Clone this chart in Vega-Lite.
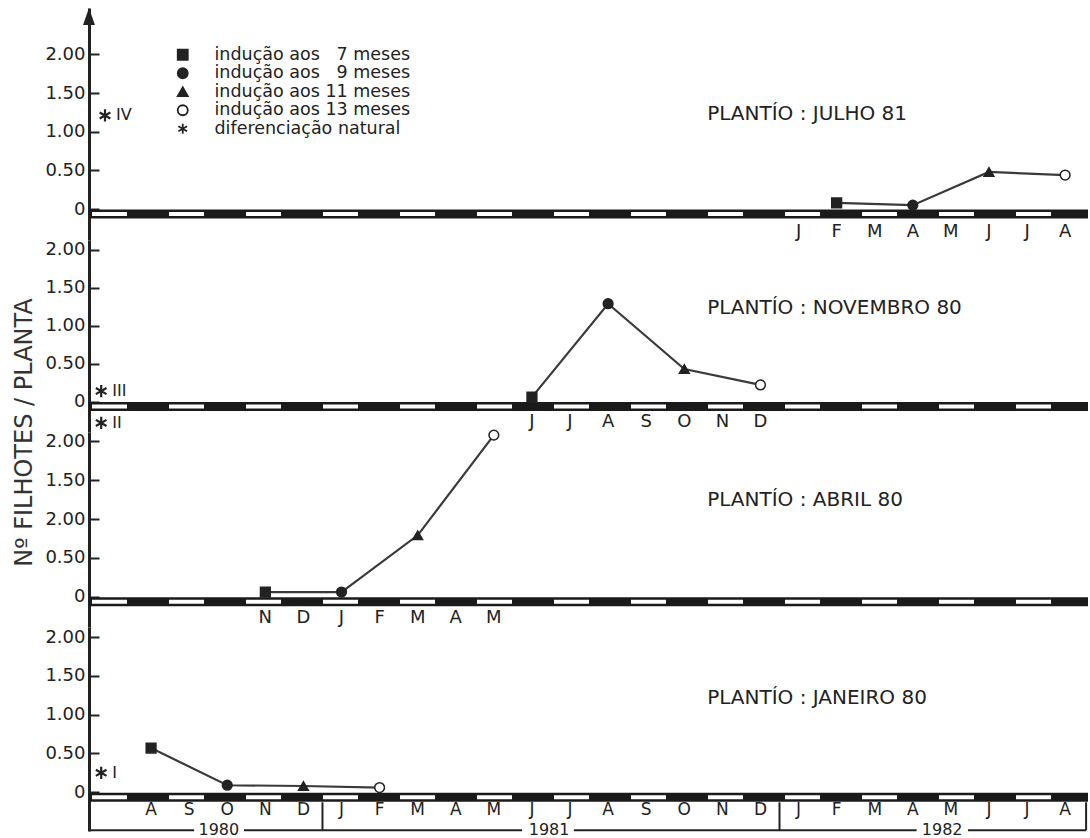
{
"$schema": "https://vega.github.io/schema/vega-lite/v6.json",
"background": "white",
"padding": {"left": 12, "top": 8, "right": 1, "bottom": 4},
"spacing": 0,
"bounds": "flush",
"config": {
  "view": {"stroke": null},
  "font": "DejaVu Sans",
  "axisY": {"domainColor": "#222", "domainWidth": 3, "tickColor": "#222", "tickWidth": 2, "tickSize": -10, "labelFont": "DejaVu Sans", "labelFontSize": 18, "labelColor": "#222", "labelPadding": 14, "grid": false}
},
"resolve": {"scale": {"x": "independent", "y": "independent", "shape": "independent", "fill": "independent", "stroke": "independent"}, "legend": {"shape": "independent", "fill": "independent", "stroke": "independent"}},
"datasets": {
  "pts": [
    {"painel": "JULHO 81", "serie": "indução aos 7 meses", "t": 19, "valor": 0.08},
    {"painel": "JULHO 81", "serie": "indução aos 9 meses", "t": 21, "valor": 0.05},
    {"painel": "JULHO 81", "serie": "indução aos 11 meses", "t": 23, "valor": 0.48},
    {"painel": "JULHO 81", "serie": "indução aos 13 meses", "t": 25, "valor": 0.44},
    {"painel": "NOVEMBRO 80", "serie": "indução aos 7 meses", "t": 11, "valor": 0.06},
    {"painel": "NOVEMBRO 80", "serie": "indução aos 9 meses", "t": 13, "valor": 1.29},
    {"painel": "NOVEMBRO 80", "serie": "indução aos 11 meses", "t": 15, "valor": 0.43},
    {"painel": "NOVEMBRO 80", "serie": "indução aos 13 meses", "t": 17, "valor": 0.22},
    {"painel": "ABRIL 80", "serie": "indução aos 7 meses", "t": 4, "valor": 0.06},
    {"painel": "ABRIL 80", "serie": "indução aos 9 meses", "t": 6, "valor": 0.06},
    {"painel": "ABRIL 80", "serie": "indução aos 11 meses", "t": 8, "valor": 0.79},
    {"painel": "ABRIL 80", "serie": "indução aos 13 meses", "t": 10, "valor": 2.08},
    {"painel": "JANEIRO 80", "serie": "indução aos 7 meses", "t": 1, "valor": 0.57},
    {"painel": "JANEIRO 80", "serie": "indução aos 9 meses", "t": 3, "valor": 0.09},
    {"painel": "JANEIRO 80", "serie": "indução aos 11 meses", "t": 5, "valor": 0.08},
    {"painel": "JANEIRO 80", "serie": "indução aos 13 meses", "t": 7, "valor": 0.06}
  ],
  "natural": [
    {"painel": "JULHO 81", "t": -0.21, "valor": 1.21, "rotulo": "IV"},
    {"painel": "NOVEMBRO 80", "t": -0.31, "valor": 0.14, "rotulo": "III"},
    {"painel": "NOVEMBRO 80", "t": -0.31, "valor": -0.28, "rotulo": "II"},
    {"painel": "JANEIRO 80", "t": -0.31, "valor": 0.25, "rotulo": "I"}
  ],
  "meses": [
    {"t": 0, "m": "J"}, {"t": 1, "m": "A"}, {"t": 2, "m": "S"}, {"t": 3, "m": "O"}, {"t": 4, "m": "N"}, {"t": 5, "m": "D"},
    {"t": 6, "m": "J"}, {"t": 7, "m": "F"}, {"t": 8, "m": "M"}, {"t": 9, "m": "A"}, {"t": 10, "m": "M"}, {"t": 11, "m": "J"},
    {"t": 12, "m": "J"}, {"t": 13, "m": "A"}, {"t": 14, "m": "S"}, {"t": 15, "m": "O"}, {"t": 16, "m": "N"}, {"t": 17, "m": "D"},
    {"t": 18, "m": "J"}, {"t": 19, "m": "F"}, {"t": 20, "m": "M"}, {"t": 21, "m": "A"}, {"t": 22, "m": "M"}, {"t": 23, "m": "J"},
    {"t": 24, "m": "J"}, {"t": 25, "m": "A"}
  ],
  "titulos": [
    {"painel": "JULHO 81", "titulo": "PLANTÍO : JULHO 81"},
    {"painel": "NOVEMBRO 80", "titulo": "PLANTÍO : NOVEMBRO 80"},
    {"painel": "ABRIL 80", "titulo": "PLANTÍO : ABRIL 80"},
    {"painel": "JANEIRO 80", "titulo": "PLANTÍO : JANEIRO 80"}
  ],
  "anos": [{"ano": "1980", "t": 2.78}, {"ano": "1981", "t": 11.45}, {"ano": "1982", "t": 21.77}],
  "divisas": [{"t": 5.5}, {"t": 17.5}, {"t": 25.55}],
  "base": [{"t0": -0.63, "t1": 2.13}, {"t0": 3.44, "t1": 10.74}, {"t0": 12.1, "t1": 21.1}, {"t0": 22.45, "t1": 25.55}]
},
"vconcat": [
{
  "width": 999, "height": 232,
  "layer": [
    {"data": {"values": [{}]}, "mark": {"type": "rule", "color": "#1a1a1a", "strokeWidth": 9},
     "encoding": {"x": {"datum": -0.63, "type": "quantitative", "scale": {"domain": [-0.63, 25.6], "nice": false, "zero": false}, "axis": null}, "x2": {"datum": 25.6},
                  "y": {"datum": -0.065, "type": "quantitative", "scale": {"domain": [-0.4, 2.6], "nice": false, "zero": false},
                        "axis": {"values": [0, 0.5, 1, 1.5, 2], "labelExpr": "datum.value == 0 ? '0' : format(datum.value, '.2f')", "title": null}}}},
    {"data": {"values": [{}]}, "mark": {"type": "rule", "color": "#ffffff", "strokeWidth": 4, "strokeDash": [35, 42], "strokeDashOffset": 74},
     "encoding": {"x": {"datum": -0.63, "type": "quantitative", "scale": {"domain": [-0.63, 25.6], "nice": false, "zero": false}, "axis": null}, "x2": {"datum": 25.6},
                  "y": {"datum": -0.065, "type": "quantitative", "scale": {"domain": [-0.4, 2.6], "nice": false, "zero": false},
                        "axis": {"values": [0, 0.5, 1, 1.5, 2], "labelExpr": "datum.value == 0 ? '0' : format(datum.value, '.2f')", "title": null}}}},
    {"data": {"values": [{}]}, "mark": {"type": "point", "shape": "M0,-1L-0.7,1L0.7,1Z", "filled": true, "color": "#222", "size": 289, "opacity": 1},
     "encoding": {"x": {"datum": -0.63, "type": "quantitative", "scale": {"domain": [-0.63, 25.6], "nice": false, "zero": false}, "axis": null},
                  "y": {"datum": 2.49, "type": "quantitative", "scale": {"domain": [-0.4, 2.6], "nice": false, "zero": false},
                        "axis": {"values": [0, 0.5, 1, 1.5, 2], "labelExpr": "datum.value == 0 ? '0' : format(datum.value, '.2f')", "title": null}}}},
    {"data": {"name": "pts"}, "transform": [{"filter": "datum.painel == 'JULHO 81'"}],
     "mark": {"type": "line", "color": "#3a3a3a", "strokeWidth": 2.2},
     "encoding": {"x": {"field": "t", "type": "quantitative", "scale": {"domain": [-0.63, 25.6], "nice": false, "zero": false}, "axis": null},
                  "y": {"field": "valor", "type": "quantitative", "scale": {"domain": [-0.4, 2.6], "nice": false, "zero": false},
                        "axis": {"values": [0, 0.5, 1, 1.5, 2], "labelExpr": "datum.value == 0 ? '0' : format(datum.value, '.2f')", "title": null}}}},
    {"data": {"name": "pts"}, "transform": [{"filter": "datum.painel == 'JULHO 81'"}],
     "mark": {"type": "point", "filled": true, "size": 95, "strokeWidth": 1.5, "opacity": 1},
     "encoding": {"x": {"field": "t", "type": "quantitative", "scale": {"domain": [-0.63, 25.6], "nice": false, "zero": false}, "axis": null},
                  "y": {"field": "valor", "type": "quantitative", "scale": {"domain": [-0.4, 2.6], "nice": false, "zero": false},
                        "axis": {"values": [0, 0.5, 1, 1.5, 2], "labelExpr": "datum.value == 0 ? '0' : format(datum.value, '.2f')", "title": null}},
                  "shape": {"field": "serie", "type": "nominal",
                            "scale": {"domain": ["indução aos 7 meses", "indução aos 9 meses", "indução aos 11 meses", "indução aos 13 meses", "diferenciação natural"],
                                      "range": ["square", "circle", "triangle-up", "circle", "M0,-1L0,1M-0.87,-0.5L0.87,0.5M-0.87,0.5L0.87,-0.5"]},
                            "legend": {"orient": "none", "legendX": 85, "legendY": 38, "title": null, "padding": 0, "labelFont": "DejaVu Sans", "labelFontSize": 17.5, "labelColor": "#222", "labelLimit": 0, "symbolSize": 100, "symbolStrokeWidth": 1.8, "labelOffset": 23, "rowPadding": -0.5,
                                       "labelExpr": "datum.label == 'indução aos 7 meses' ? 'indução aos \u20077 meses' : datum.label == 'indução aos 9 meses' ? 'indução aos \u20079 meses' : datum.label"}},
                  "fill": {"field": "serie", "type": "nominal",
                           "scale": {"domain": ["indução aos 7 meses", "indução aos 9 meses", "indução aos 11 meses", "indução aos 13 meses", "diferenciação natural"],
                                     "range": ["#222222", "#222222", "#222222", "#ffffff", "#222222"]},
                           "legend": {"orient": "none", "legendX": 85, "legendY": 38, "title": null, "padding": 0, "labelFont": "DejaVu Sans", "labelFontSize": 17.5, "labelColor": "#222", "labelLimit": 0, "symbolSize": 100, "symbolStrokeWidth": 1.8, "labelOffset": 23, "rowPadding": -0.5,
                                      "labelExpr": "datum.label == 'indução aos 7 meses' ? 'indução aos \u20077 meses' : datum.label == 'indução aos 9 meses' ? 'indução aos \u20079 meses' : datum.label"}},
                  "stroke": {"field": "serie", "type": "nominal",
                           "scale": {"domain": ["indução aos 7 meses", "indução aos 9 meses", "indução aos 11 meses", "indução aos 13 meses", "diferenciação natural"],
                                     "range": ["#222222", "#222222", "#222222", "#222222", "#222222"]},
                           "legend": {"orient": "none", "legendX": 85, "legendY": 38, "title": null, "padding": 0, "labelFont": "DejaVu Sans", "labelFontSize": 17.5, "labelColor": "#222", "labelLimit": 0, "symbolSize": 100, "symbolStrokeWidth": 1.8, "labelOffset": 23, "rowPadding": -0.5,
                                      "labelExpr": "datum.label == 'indução aos 7 meses' ? 'indução aos \u20077 meses' : datum.label == 'indução aos 9 meses' ? 'indução aos \u20079 meses' : datum.label"}}}},
    {"data": {"name": "natural"}, "transform": [{"filter": "datum.painel == 'JULHO 81'"}],
     "mark": {"type": "point", "shape": "M0,-1L0,1M-0.87,-0.5L0.87,0.5M-0.87,0.5L0.87,-0.5", "filled": false, "size": 150, "strokeWidth": 2.2, "color": "#222", "opacity": 1},
     "encoding": {"x": {"field": "t", "type": "quantitative", "scale": {"domain": [-0.63, 25.6], "nice": false, "zero": false}, "axis": null},
                  "y": {"field": "valor", "type": "quantitative", "scale": {"domain": [-0.4, 2.6], "nice": false, "zero": false},
                        "axis": {"values": [0, 0.5, 1, 1.5, 2], "labelExpr": "datum.value == 0 ? '0' : format(datum.value, '.2f')", "title": null}}}},
    {"data": {"name": "natural"}, "transform": [{"filter": "datum.painel == 'JULHO 81'"}],
     "mark": {"type": "text", "align": "left", "baseline": "middle", "dx": 11, "fontSize": 16, "fill": "#222"},
     "encoding": {"x": {"field": "t", "type": "quantitative", "scale": {"domain": [-0.63, 25.6], "nice": false, "zero": false}, "axis": null},
                  "y": {"field": "valor", "type": "quantitative", "scale": {"domain": [-0.4, 2.6], "nice": false, "zero": false},
                        "axis": {"values": [0, 0.5, 1, 1.5, 2], "labelExpr": "datum.value == 0 ? '0' : format(datum.value, '.2f')", "title": null}},
                  "text": {"field": "rotulo"}}},
    {"data": {"name": "meses"}, "transform": [{"filter": "datum.t >= 18"}],
     "mark": {"type": "text", "align": "center", "baseline": "middle", "fontSize": 18, "fill": "#222"},
     "encoding": {"x": {"field": "t", "type": "quantitative", "scale": {"domain": [-0.63, 25.6], "nice": false, "zero": false}, "axis": null},
                  "y": {"datum": -0.3, "type": "quantitative", "scale": {"domain": [-0.4, 2.6], "nice": false, "zero": false},
                        "axis": {"values": [0, 0.5, 1, 1.5, 2], "labelExpr": "datum.value == 0 ? '0' : format(datum.value, '.2f')", "title": null}},
                  "text": {"field": "m"}}},
    {"data": {"name": "titulos"}, "transform": [{"filter": "datum.painel == 'JULHO 81'"}],
     "mark": {"type": "text", "align": "left", "baseline": "middle", "fontSize": 20, "fill": "#222"},
     "encoding": {"x": {"datum": 15.6, "type": "quantitative", "scale": {"domain": [-0.63, 25.6], "nice": false, "zero": false}, "axis": null},
                  "y": {"datum": 1.23, "type": "quantitative", "scale": {"domain": [-0.4, 2.6], "nice": false, "zero": false},
                        "axis": {"values": [0, 0.5, 1, 1.5, 2], "labelExpr": "datum.value == 0 ? '0' : format(datum.value, '.2f')", "title": null}},
                  "text": {"field": "titulo"}}}
  ]
},
{
  "width": 999, "height": 192,
  "layer": [
    {"data": {"values": [{}]}, "mark": {"type": "rule", "color": "#1a1a1a", "strokeWidth": 9},
     "encoding": {"x": {"datum": -0.63, "type": "quantitative", "scale": {"domain": [-0.63, 25.6], "nice": false, "zero": false}, "axis": null}, "x2": {"datum": 25.6},
                  "y": {"datum": -0.065, "type": "quantitative", "scale": {"domain": [-0.4, 2.13], "nice": false, "zero": false},
                        "axis": {"values": [0, 0.5, 1, 1.5, 2], "labelExpr": "datum.value == 0 ? '0' : format(datum.value, '.2f')", "title": "Nº FILHOTES / PLANTA", "titleFont": "DejaVu Sans", "titleFontSize": 24, "titleFontWeight": "normal", "titleColor": "#333", "titleAnchor": "start", "titleAlign": "center", "titlePadding": 8}}}},
    {"data": {"values": [{}]}, "mark": {"type": "rule", "color": "#ffffff", "strokeWidth": 4, "strokeDash": [35, 42], "strokeDashOffset": 74},
     "encoding": {"x": {"datum": -0.63, "type": "quantitative", "scale": {"domain": [-0.63, 25.6], "nice": false, "zero": false}, "axis": null}, "x2": {"datum": 25.6},
                  "y": {"datum": -0.065, "type": "quantitative", "scale": {"domain": [-0.4, 2.13], "nice": false, "zero": false},
                        "axis": {"values": [0, 0.5, 1, 1.5, 2], "labelExpr": "datum.value == 0 ? '0' : format(datum.value, '.2f')", "title": "Nº FILHOTES / PLANTA", "titleFont": "DejaVu Sans", "titleFontSize": 24, "titleFontWeight": "normal", "titleColor": "#333", "titleAnchor": "start", "titleAlign": "center", "titlePadding": 8}}}},
    {"data": {"name": "pts"}, "transform": [{"filter": "datum.painel == 'NOVEMBRO 80'"}],
     "mark": {"type": "line", "color": "#3a3a3a", "strokeWidth": 2.2},
     "encoding": {"x": {"field": "t", "type": "quantitative", "scale": {"domain": [-0.63, 25.6], "nice": false, "zero": false}, "axis": null},
                  "y": {"field": "valor", "type": "quantitative", "scale": {"domain": [-0.4, 2.13], "nice": false, "zero": false},
                        "axis": {"values": [0, 0.5, 1, 1.5, 2], "labelExpr": "datum.value == 0 ? '0' : format(datum.value, '.2f')", "title": "Nº FILHOTES / PLANTA", "titleFont": "DejaVu Sans", "titleFontSize": 24, "titleFontWeight": "normal", "titleColor": "#333", "titleAnchor": "start", "titleAlign": "center", "titlePadding": 8}}}},
    {"data": {"name": "pts"}, "transform": [{"filter": "datum.painel == 'NOVEMBRO 80'"}],
     "mark": {"type": "point", "filled": true, "size": 95, "strokeWidth": 1.5, "opacity": 1},
     "encoding": {"x": {"field": "t", "type": "quantitative", "scale": {"domain": [-0.63, 25.6], "nice": false, "zero": false}, "axis": null},
                  "y": {"field": "valor", "type": "quantitative", "scale": {"domain": [-0.4, 2.13], "nice": false, "zero": false},
                        "axis": {"values": [0, 0.5, 1, 1.5, 2], "labelExpr": "datum.value == 0 ? '0' : format(datum.value, '.2f')", "title": "Nº FILHOTES / PLANTA", "titleFont": "DejaVu Sans", "titleFontSize": 24, "titleFontWeight": "normal", "titleColor": "#333", "titleAnchor": "start", "titleAlign": "center", "titlePadding": 8}},
                  "shape": {"field": "serie", "type": "nominal",
                            "scale": {"domain": ["indução aos 7 meses", "indução aos 9 meses", "indução aos 11 meses", "indução aos 13 meses", "diferenciação natural"],
                                      "range": ["square", "circle", "triangle-up", "circle", "M0,-1L0,1M-0.87,-0.5L0.87,0.5M-0.87,0.5L0.87,-0.5"]}, "legend": null},
                  "fill": {"field": "serie", "type": "nominal",
                           "scale": {"domain": ["indução aos 7 meses", "indução aos 9 meses", "indução aos 11 meses", "indução aos 13 meses", "diferenciação natural"],
                                     "range": ["#222222", "#222222", "#222222", "#ffffff", "#222222"]}, "legend": null},
                  "stroke": {"field": "serie", "type": "nominal",
                           "scale": {"domain": ["indução aos 7 meses", "indução aos 9 meses", "indução aos 11 meses", "indução aos 13 meses", "diferenciação natural"],
                                     "range": ["#222222", "#222222", "#222222", "#222222", "#222222"]}, "legend": null}}},
    {"data": {"name": "natural"}, "transform": [{"filter": "datum.painel == 'NOVEMBRO 80'"}],
     "mark": {"type": "point", "shape": "M0,-1L0,1M-0.87,-0.5L0.87,0.5M-0.87,0.5L0.87,-0.5", "filled": false, "size": 150, "strokeWidth": 2.2, "color": "#222", "opacity": 1},
     "encoding": {"x": {"field": "t", "type": "quantitative", "scale": {"domain": [-0.63, 25.6], "nice": false, "zero": false}, "axis": null},
                  "y": {"field": "valor", "type": "quantitative", "scale": {"domain": [-0.4, 2.13], "nice": false, "zero": false},
                        "axis": {"values": [0, 0.5, 1, 1.5, 2], "labelExpr": "datum.value == 0 ? '0' : format(datum.value, '.2f')", "title": "Nº FILHOTES / PLANTA", "titleFont": "DejaVu Sans", "titleFontSize": 24, "titleFontWeight": "normal", "titleColor": "#333", "titleAnchor": "start", "titleAlign": "center", "titlePadding": 8}}}},
    {"data": {"name": "natural"}, "transform": [{"filter": "datum.painel == 'NOVEMBRO 80'"}],
     "mark": {"type": "text", "align": "left", "baseline": "middle", "dx": 11, "fontSize": 16, "fill": "#222"},
     "encoding": {"x": {"field": "t", "type": "quantitative", "scale": {"domain": [-0.63, 25.6], "nice": false, "zero": false}, "axis": null},
                  "y": {"field": "valor", "type": "quantitative", "scale": {"domain": [-0.4, 2.13], "nice": false, "zero": false},
                        "axis": {"values": [0, 0.5, 1, 1.5, 2], "labelExpr": "datum.value == 0 ? '0' : format(datum.value, '.2f')", "title": "Nº FILHOTES / PLANTA", "titleFont": "DejaVu Sans", "titleFontSize": 24, "titleFontWeight": "normal", "titleColor": "#333", "titleAnchor": "start", "titleAlign": "center", "titlePadding": 8}},
                  "text": {"field": "rotulo"}}},
    {"data": {"name": "meses"}, "transform": [{"filter": "datum.t >= 11 && datum.t <= 17"}],
     "mark": {"type": "text", "align": "center", "baseline": "middle", "fontSize": 18, "fill": "#222"},
     "encoding": {"x": {"field": "t", "type": "quantitative", "scale": {"domain": [-0.63, 25.6], "nice": false, "zero": false}, "axis": null},
                  "y": {"datum": -0.263, "type": "quantitative", "scale": {"domain": [-0.4, 2.13], "nice": false, "zero": false},
                        "axis": {"values": [0, 0.5, 1, 1.5, 2], "labelExpr": "datum.value == 0 ? '0' : format(datum.value, '.2f')", "title": "Nº FILHOTES / PLANTA", "titleFont": "DejaVu Sans", "titleFontSize": 24, "titleFontWeight": "normal", "titleColor": "#333", "titleAnchor": "start", "titleAlign": "center", "titlePadding": 8}},
                  "text": {"field": "m"}}},
    {"data": {"name": "titulos"}, "transform": [{"filter": "datum.painel == 'NOVEMBRO 80'"}],
     "mark": {"type": "text", "align": "left", "baseline": "middle", "fontSize": 20, "fill": "#222"},
     "encoding": {"x": {"datum": 15.6, "type": "quantitative", "scale": {"domain": [-0.63, 25.6], "nice": false, "zero": false}, "axis": null},
                  "y": {"datum": 1.24, "type": "quantitative", "scale": {"domain": [-0.4, 2.13], "nice": false, "zero": false},
                        "axis": {"values": [0, 0.5, 1, 1.5, 2], "labelExpr": "datum.value == 0 ? '0' : format(datum.value, '.2f')", "title": "Nº FILHOTES / PLANTA", "titleFont": "DejaVu Sans", "titleFontSize": 24, "titleFontWeight": "normal", "titleColor": "#333", "titleAnchor": "start", "titleAlign": "center", "titlePadding": 8}},
                  "text": {"field": "titulo"}}}
  ]
},
{
  "width": 999, "height": 195,
  "layer": [
    {"data": {"values": [{}]}, "mark": {"type": "rule", "color": "#1a1a1a", "strokeWidth": 9},
     "encoding": {"x": {"datum": -0.63, "type": "quantitative", "scale": {"domain": [-0.63, 25.6], "nice": false, "zero": false}, "axis": null}, "x2": {"datum": 25.6},
                  "y": {"datum": -0.065, "type": "quantitative", "scale": {"domain": [-0.39, 2.12], "nice": false, "zero": false},
                        "axis": {"values": [0, 0.5, 1, 1.5, 2], "labelExpr": "datum.value == 0 ? '0' : datum.value == 1 ? '2.00' : format(datum.value, '.2f')", "title": null}}}},
    {"data": {"values": [{}]}, "mark": {"type": "rule", "color": "#ffffff", "strokeWidth": 4, "strokeDash": [35, 42], "strokeDashOffset": 74},
     "encoding": {"x": {"datum": -0.63, "type": "quantitative", "scale": {"domain": [-0.63, 25.6], "nice": false, "zero": false}, "axis": null}, "x2": {"datum": 25.6},
                  "y": {"datum": -0.065, "type": "quantitative", "scale": {"domain": [-0.39, 2.12], "nice": false, "zero": false},
                        "axis": {"values": [0, 0.5, 1, 1.5, 2], "labelExpr": "datum.value == 0 ? '0' : datum.value == 1 ? '2.00' : format(datum.value, '.2f')", "title": null}}}},
    {"data": {"name": "pts"}, "transform": [{"filter": "datum.painel == 'ABRIL 80'"}],
     "mark": {"type": "line", "color": "#3a3a3a", "strokeWidth": 2.2},
     "encoding": {"x": {"field": "t", "type": "quantitative", "scale": {"domain": [-0.63, 25.6], "nice": false, "zero": false}, "axis": null},
                  "y": {"field": "valor", "type": "quantitative", "scale": {"domain": [-0.39, 2.12], "nice": false, "zero": false},
                        "axis": {"values": [0, 0.5, 1, 1.5, 2], "labelExpr": "datum.value == 0 ? '0' : datum.value == 1 ? '2.00' : format(datum.value, '.2f')", "title": null}}}},
    {"data": {"name": "pts"}, "transform": [{"filter": "datum.painel == 'ABRIL 80'"}],
     "mark": {"type": "point", "filled": true, "size": 95, "strokeWidth": 1.5, "opacity": 1},
     "encoding": {"x": {"field": "t", "type": "quantitative", "scale": {"domain": [-0.63, 25.6], "nice": false, "zero": false}, "axis": null},
                  "y": {"field": "valor", "type": "quantitative", "scale": {"domain": [-0.39, 2.12], "nice": false, "zero": false},
                        "axis": {"values": [0, 0.5, 1, 1.5, 2], "labelExpr": "datum.value == 0 ? '0' : datum.value == 1 ? '2.00' : format(datum.value, '.2f')", "title": null}},
                  "shape": {"field": "serie", "type": "nominal",
                            "scale": {"domain": ["indução aos 7 meses", "indução aos 9 meses", "indução aos 11 meses", "indução aos 13 meses", "diferenciação natural"],
                                      "range": ["square", "circle", "triangle-up", "circle", "M0,-1L0,1M-0.87,-0.5L0.87,0.5M-0.87,0.5L0.87,-0.5"]}, "legend": null},
                  "fill": {"field": "serie", "type": "nominal",
                           "scale": {"domain": ["indução aos 7 meses", "indução aos 9 meses", "indução aos 11 meses", "indução aos 13 meses", "diferenciação natural"],
                                     "range": ["#222222", "#222222", "#222222", "#ffffff", "#222222"]}, "legend": null},
                  "stroke": {"field": "serie", "type": "nominal",
                           "scale": {"domain": ["indução aos 7 meses", "indução aos 9 meses", "indução aos 11 meses", "indução aos 13 meses", "diferenciação natural"],
                                     "range": ["#222222", "#222222", "#222222", "#222222", "#222222"]}, "legend": null}}},
    {"data": {"name": "meses"}, "transform": [{"filter": "datum.t >= 4 && datum.t <= 10"}],
     "mark": {"type": "text", "align": "center", "baseline": "middle", "fontSize": 18, "fill": "#222"},
     "encoding": {"x": {"field": "t", "type": "quantitative", "scale": {"domain": [-0.63, 25.6], "nice": false, "zero": false}, "axis": null},
                  "y": {"datum": -0.28, "type": "quantitative", "scale": {"domain": [-0.39, 2.12], "nice": false, "zero": false},
                        "axis": {"values": [0, 0.5, 1, 1.5, 2], "labelExpr": "datum.value == 0 ? '0' : datum.value == 1 ? '2.00' : format(datum.value, '.2f')", "title": null}},
                  "text": {"field": "m"}}},
    {"data": {"name": "titulos"}, "transform": [{"filter": "datum.painel == 'ABRIL 80'"}],
     "mark": {"type": "text", "align": "left", "baseline": "middle", "fontSize": 20, "fill": "#222"},
     "encoding": {"x": {"datum": 15.6, "type": "quantitative", "scale": {"domain": [-0.63, 25.6], "nice": false, "zero": false}, "axis": null},
                  "y": {"datum": 1.25, "type": "quantitative", "scale": {"domain": [-0.39, 2.12], "nice": false, "zero": false},
                        "axis": {"values": [0, 0.5, 1, 1.5, 2], "labelExpr": "datum.value == 0 ? '0' : datum.value == 1 ? '2.00' : format(datum.value, '.2f')", "title": null}},
                  "text": {"field": "titulo"}}}
  ]
},
{
  "width": 999, "height": 204,
  "layer": [
    {"data": {"values": [{}]}, "mark": {"type": "rule", "color": "#1a1a1a", "strokeWidth": 9},
     "encoding": {"x": {"datum": -0.63, "type": "quantitative", "scale": {"domain": [-0.63, 25.6], "nice": false, "zero": false}, "axis": null}, "x2": {"datum": 25.6},
                  "y": {"datum": -0.065, "type": "quantitative", "scale": {"domain": [-0.5, 2.13], "nice": false, "zero": false},
                        "axis": {"values": [0, 0.5, 1, 1.5, 2], "labelExpr": "datum.value == 0 ? '0' : format(datum.value, '.2f')", "title": null}}}},
    {"data": {"values": [{}]}, "mark": {"type": "rule", "color": "#ffffff", "strokeWidth": 4, "strokeDash": [35, 42], "strokeDashOffset": 74},
     "encoding": {"x": {"datum": -0.63, "type": "quantitative", "scale": {"domain": [-0.63, 25.6], "nice": false, "zero": false}, "axis": null}, "x2": {"datum": 25.6},
                  "y": {"datum": -0.065, "type": "quantitative", "scale": {"domain": [-0.5, 2.13], "nice": false, "zero": false},
                        "axis": {"values": [0, 0.5, 1, 1.5, 2], "labelExpr": "datum.value == 0 ? '0' : format(datum.value, '.2f')", "title": null}}}},
    {"data": {"name": "divisas"}, "mark": {"type": "rule", "color": "#222", "strokeWidth": 2},
     "encoding": {"x": {"field": "t", "type": "quantitative", "scale": {"domain": [-0.63, 25.6], "nice": false, "zero": false}, "axis": null},
                  "y": {"datum": -0.13, "type": "quantitative", "scale": {"domain": [-0.5, 2.13], "nice": false, "zero": false},
                        "axis": {"values": [0, 0.5, 1, 1.5, 2], "labelExpr": "datum.value == 0 ? '0' : format(datum.value, '.2f')", "title": null}},
                  "y2": {"datum": -0.49}}},
    {"data": {"name": "base"}, "mark": {"type": "rule", "color": "#222", "strokeWidth": 2},
     "encoding": {"x": {"field": "t0", "type": "quantitative", "scale": {"domain": [-0.63, 25.6], "nice": false, "zero": false}, "axis": null},
                  "x2": {"field": "t1"},
                  "y": {"datum": -0.49, "type": "quantitative", "scale": {"domain": [-0.5, 2.13], "nice": false, "zero": false},
                        "axis": {"values": [0, 0.5, 1, 1.5, 2], "labelExpr": "datum.value == 0 ? '0' : format(datum.value, '.2f')", "title": null}}}},
    {"data": {"name": "anos"}, "mark": {"type": "text", "align": "center", "baseline": "middle", "fontSize": 16, "fill": "#222"},
     "encoding": {"x": {"field": "t", "type": "quantitative", "scale": {"domain": [-0.63, 25.6], "nice": false, "zero": false}, "axis": null},
                  "y": {"datum": -0.488, "type": "quantitative", "scale": {"domain": [-0.5, 2.13], "nice": false, "zero": false},
                        "axis": {"values": [0, 0.5, 1, 1.5, 2], "labelExpr": "datum.value == 0 ? '0' : format(datum.value, '.2f')", "title": null}},
                  "text": {"field": "ano"}}},
    {"data": {"name": "pts"}, "transform": [{"filter": "datum.painel == 'JANEIRO 80'"}],
     "mark": {"type": "line", "color": "#3a3a3a", "strokeWidth": 2.2},
     "encoding": {"x": {"field": "t", "type": "quantitative", "scale": {"domain": [-0.63, 25.6], "nice": false, "zero": false}, "axis": null},
                  "y": {"field": "valor", "type": "quantitative", "scale": {"domain": [-0.5, 2.13], "nice": false, "zero": false},
                        "axis": {"values": [0, 0.5, 1, 1.5, 2], "labelExpr": "datum.value == 0 ? '0' : format(datum.value, '.2f')", "title": null}}}},
    {"data": {"name": "pts"}, "transform": [{"filter": "datum.painel == 'JANEIRO 80'"}],
     "mark": {"type": "point", "filled": true, "size": 95, "strokeWidth": 1.5, "opacity": 1},
     "encoding": {"x": {"field": "t", "type": "quantitative", "scale": {"domain": [-0.63, 25.6], "nice": false, "zero": false}, "axis": null},
                  "y": {"field": "valor", "type": "quantitative", "scale": {"domain": [-0.5, 2.13], "nice": false, "zero": false},
                        "axis": {"values": [0, 0.5, 1, 1.5, 2], "labelExpr": "datum.value == 0 ? '0' : format(datum.value, '.2f')", "title": null}},
                  "shape": {"field": "serie", "type": "nominal",
                            "scale": {"domain": ["indução aos 7 meses", "indução aos 9 meses", "indução aos 11 meses", "indução aos 13 meses", "diferenciação natural"],
                                      "range": ["square", "circle", "triangle-up", "circle", "M0,-1L0,1M-0.87,-0.5L0.87,0.5M-0.87,0.5L0.87,-0.5"]}, "legend": null},
                  "fill": {"field": "serie", "type": "nominal",
                           "scale": {"domain": ["indução aos 7 meses", "indução aos 9 meses", "indução aos 11 meses", "indução aos 13 meses", "diferenciação natural"],
                                     "range": ["#222222", "#222222", "#222222", "#ffffff", "#222222"]}, "legend": null},
                  "stroke": {"field": "serie", "type": "nominal",
                           "scale": {"domain": ["indução aos 7 meses", "indução aos 9 meses", "indução aos 11 meses", "indução aos 13 meses", "diferenciação natural"],
                                     "range": ["#222222", "#222222", "#222222", "#222222", "#222222"]}, "legend": null}}},
    {"data": {"name": "natural"}, "transform": [{"filter": "datum.painel == 'JANEIRO 80'"}],
     "mark": {"type": "point", "shape": "M0,-1L0,1M-0.87,-0.5L0.87,0.5M-0.87,0.5L0.87,-0.5", "filled": false, "size": 150, "strokeWidth": 2.2, "color": "#222", "opacity": 1},
     "encoding": {"x": {"field": "t", "type": "quantitative", "scale": {"domain": [-0.63, 25.6], "nice": false, "zero": false}, "axis": null},
                  "y": {"field": "valor", "type": "quantitative", "scale": {"domain": [-0.5, 2.13], "nice": false, "zero": false},
                        "axis": {"values": [0, 0.5, 1, 1.5, 2], "labelExpr": "datum.value == 0 ? '0' : format(datum.value, '.2f')", "title": null}}}},
    {"data": {"name": "natural"}, "transform": [{"filter": "datum.painel == 'JANEIRO 80'"}],
     "mark": {"type": "text", "align": "left", "baseline": "middle", "dx": 11, "fontSize": 16, "fill": "#222"},
     "encoding": {"x": {"field": "t", "type": "quantitative", "scale": {"domain": [-0.63, 25.6], "nice": false, "zero": false}, "axis": null},
                  "y": {"field": "valor", "type": "quantitative", "scale": {"domain": [-0.5, 2.13], "nice": false, "zero": false},
                        "axis": {"values": [0, 0.5, 1, 1.5, 2], "labelExpr": "datum.value == 0 ? '0' : format(datum.value, '.2f')", "title": null}},
                  "text": {"field": "rotulo"}}},
    {"data": {"name": "meses"}, "transform": [{"filter": "datum.t >= 1"}],
     "mark": {"type": "text", "align": "center", "baseline": "middle", "fontSize": 17, "fill": "#222"},
     "encoding": {"x": {"field": "t", "type": "quantitative", "scale": {"domain": [-0.63, 25.6], "nice": false, "zero": false}, "axis": null},
                  "y": {"datum": -0.235, "type": "quantitative", "scale": {"domain": [-0.5, 2.13], "nice": false, "zero": false},
                        "axis": {"values": [0, 0.5, 1, 1.5, 2], "labelExpr": "datum.value == 0 ? '0' : format(datum.value, '.2f')", "title": null}},
                  "text": {"field": "m"}}},
    {"data": {"name": "titulos"}, "transform": [{"filter": "datum.painel == 'JANEIRO 80'"}],
     "mark": {"type": "text", "align": "left", "baseline": "middle", "fontSize": 20, "fill": "#222"},
     "encoding": {"x": {"datum": 15.6, "type": "quantitative", "scale": {"domain": [-0.63, 25.6], "nice": false, "zero": false}, "axis": null},
                  "y": {"datum": 1.22, "type": "quantitative", "scale": {"domain": [-0.5, 2.13], "nice": false, "zero": false},
                        "axis": {"values": [0, 0.5, 1, 1.5, 2], "labelExpr": "datum.value == 0 ? '0' : format(datum.value, '.2f')", "title": null}},
                  "text": {"field": "titulo"}}}
  ]
}
]
}
